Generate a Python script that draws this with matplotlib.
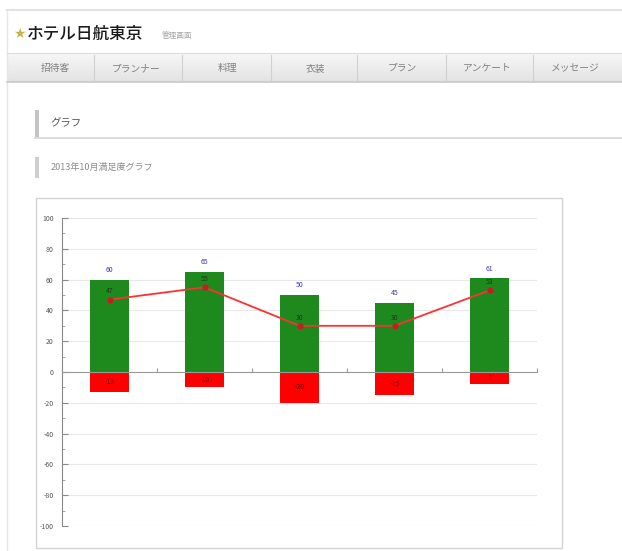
import matplotlib
matplotlib.use("Agg")
import matplotlib.pyplot as plt
from matplotlib.patches import Rectangle
from matplotlib.lines import Line2D
from matplotlib.ticker import MultipleLocator

plt.rcParams['font.family'] = ['Noto Sans CJK JP', 'DejaVu Sans']

# ---- data ----
categories = ['1', '2', '3', '4', '5']
positive = [60, 65, 50, 45, 61]
negative = [-13, -10, -20, -15, -8]
line_vals = [47, 55, 30, 30, 53]
y_ticks = [-100, -80, -60, -40, -20, 0, 20, 40, 60, 80, 100]
nav_items = ['招待客', 'プランナー', '料理', '衣装', 'プラン', 'アンケート', 'メッセージ']
brand = 'ホテル日航東京'
brand_sub = '管理画面'
section_title = 'グラフ'
chart_title = '2013年10月満足度グラフ'

W, H = 622, 551
fig = plt.figure(figsize=(W / 100, H / 100), dpi=100)
fig.patch.set_facecolor('white')


def fx(x):
    return x / W


def fy(y):
    return 1 - y / H


def rect(x0, y0, x1, y1, **kw):
    fig.patches.append(Rectangle((fx(x0), fy(y1)), fx(x1) - fx(x0), fy(y0) - fy(y1),
                                 transform=fig.transFigure, figure=fig, **kw))


def hline(x0, x1, y, **kw):
    fig.lines.append(Line2D([fx(x0), fx(x1)], [fy(y), fy(y)], transform=fig.transFigure, figure=fig, **kw))


def vline(x, y0, y1, **kw):
    fig.lines.append(Line2D([fx(x), fx(x)], [fy(y0), fy(y1)], transform=fig.transFigure, figure=fig, **kw))


# page container
hline(7, W, 10, color='#e2e2e2', lw=1.5)
vline(7, 10, H, color='#e6e6e6', lw=1.0)

# header
fig.text(fx(19), fy(34), '★', color='#c8b347', fontsize=10, ha='center', va='center', family='DejaVu Sans')
fig.text(fx(27), fy(34), brand, color='#1a1a1a', fontsize=12, ha='left', va='center', weight='medium')
fig.text(fx(162), fy(36), brand_sub, color='#a8a8a8', fontsize=5.5, ha='left', va='center')

# nav bar (simple gradient)
n_steps = 14
top, bot = 53, 82
for i in range(n_steps):
    y0 = top + (bot - top) * i / n_steps
    y1 = top + (bot - top) * (i + 1) / n_steps
    g = 0.965 - 0.075 * i / (n_steps - 1)
    rect(7, y0, W, y1 + 0.3, facecolor=(g, g, g), edgecolor='none', lw=0)
hline(7, W, top, color='#dcdcdc', lw=0.8)
hline(7, W, bot, color='#c8c8c8', lw=1.2)
nav_centers = [55, 136, 227, 315, 402, 487, 575]
separators = [94, 182, 271, 357, 446, 533]
for s in separators:
    vline(s, top + 2, bot - 2, color='#d0d0d0', lw=0.8)
for c, t in zip(nav_centers, nav_items):
    fig.text(fx(c), fy(68), t, color='#808080', fontsize=7, ha='center', va='center')

# section header
rect(35, 110, 38.5, 137, facecolor='#c4c4c4', edgecolor='none')
hline(35, W, 137.5, color='#d6d6d6', lw=1.2)
fig.text(fx(50), fy(123), section_title, color='#555555', fontsize=7.5, ha='left', va='center')

rect(35, 157, 38.5, 178, facecolor='#cfcfcf', edgecolor='none')
fig.text(fx(51), fy(167), chart_title, color='#8a8a8a', fontsize=6.5, ha='left', va='center')

# chart box
rect(36, 198, 562, 548, facecolor='white', edgecolor='#d4d4d4', lw=1.0, zorder=0)

# ---- chart ----
ax = fig.add_axes([fx(62), fy(526), fx(537) - fx(62), fy(218) - fy(526)])
ax.set_zorder(10)
ax.set_facecolor('none')
x = list(range(len(categories)))
ax.set_xlim(-0.5, len(categories) - 0.5)
ax.set_ylim(-100, 100)

for v in y_ticks:
    ax.axhline(v, color='#e8e8e8', lw=0.8, zorder=0)

bar_w = 0.41
ax.bar(x, positive, width=bar_w, color='#1e8a1e', zorder=2)
ax.bar(x, negative, width=bar_w, color='#ff0000', zorder=2)
ax.plot(x, line_vals, color='#ff3030', lw=1.3, marker='o', markersize=3.5,
        markerfacecolor='#c02020', markeredgecolor='#c02020', zorder=4)

for xi, p, n, l in zip(x, positive, negative, line_vals):
    ax.annotate(str(p), (xi, p), xytext=(0, 4), textcoords='offset points', ha='center', va='bottom',
                fontsize=5, color='#3a3ac8', zorder=5)
    ax.annotate(str(l), (xi, l), xytext=(0, 3), textcoords='offset points', ha='center', va='bottom',
                fontsize=5, color='#1f3a1f', zorder=5)
    ax.text(xi, n / 2, str(n), ha='center', va='center', fontsize=5, color='#4a0000', zorder=5)

for side in ['top', 'right']:
    ax.spines[side].set_visible(False)
ax.spines['bottom'].set_position(('data', 0))
ax.spines['bottom'].set_color('#999999')
ax.spines['left'].set_color('#888888')
ax.spines['bottom'].set_zorder(3)

ax.set_yticks(y_ticks)
ax.set_yticklabels([str(v) for v in y_ticks])
ax.yaxis.set_minor_locator(MultipleLocator(10))
ax.tick_params(axis='y', which='major', direction='in', length=4, width=0.8, colors='#888888',
               labelsize=5, labelcolor='#555555', pad=6)
ax.tick_params(axis='y', which='minor', direction='in', length=2.5, width=0.6, colors='#999999')

ax.set_xticks([i + 0.5 for i in x])
ax.set_xticklabels([])
ax.tick_params(axis='x', which='major', direction='in', length=3, width=0.8, colors='#999999')

fig.savefig('out.png', dpi=100, facecolor='white')
